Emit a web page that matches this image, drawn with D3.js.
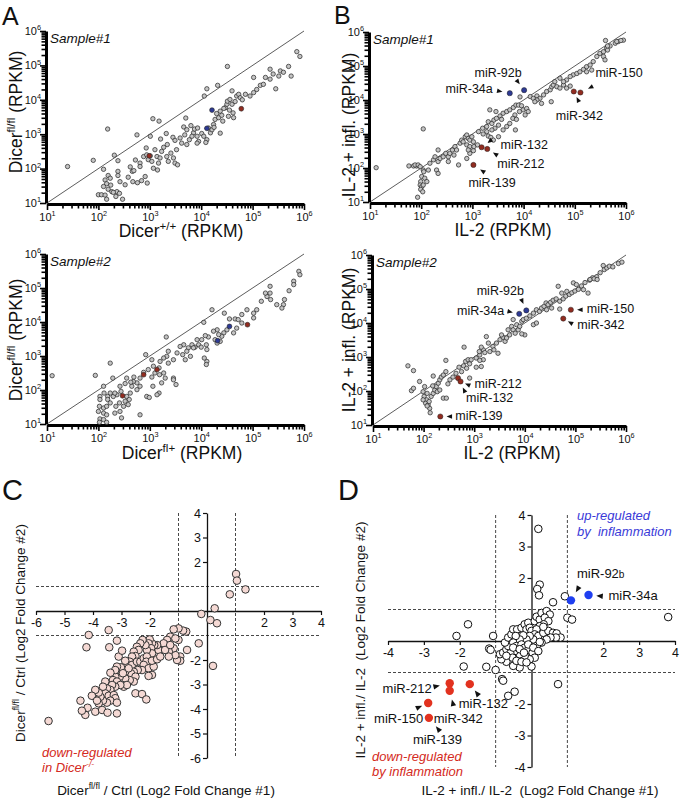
<!DOCTYPE html>
<html><head><meta charset="utf-8">
<script src="https://cdn.jsdelivr.net/npm/d3@7"></script>
<style>body{margin:0;background:#fff}svg{display:block}text{font-family:Arial,"Liberation Sans",sans-serif}</style>
</head><body>
<svg id="fig" width="680" height="801"></svg>
<script>
// ---------- DATA (log10 RPKM pairs for A/B; log2 fold changes for C/D) ----------
const dicerS1 = [[1.40,2.06],[1.90,2.24],[2.18,3.15],[2.31,2.39],[2.10,1.98],[2.38,2.23],[2.75,2.98],[3.01,2.94],[3.06,3.45],[3.18,3.38],[3.70,3.47],[4.11,4.32],[4.32,4.42],[4.51,4.97],[4.06,4.11],
[2.19,1.80],[2.23,1.72],[2.13,1.67],[2.16,1.56],[2.24,1.52],[2.10,1.48],[2.19,1.40],[2.26,1.33],[2.36,1.33],[2.41,1.28],[2.34,1.19],[2.47,1.11],[2.00,1.24],[2.06,1.24],[2.13,1.23],[2.16,1.11],[2.38,1.92],[2.38,1.80],[2.42,1.62],[2.52,1.53],[2.29,1.31],
[2.66,1.92],[2.69,1.94],[2.67,1.62],[2.76,1.59],[2.84,1.65],[2.91,1.77],[2.95,1.58],[2.93,2.60],[2.81,2.16],[2.81,2.06],[2.88,2.35],[2.94,2.40],[3.01,2.37],[2.97,2.26],[3.04,2.21],[3.10,2.55],[3.14,2.35],[3.20,2.31],[3.17,2.16],[3.07,2.01],[3.15,1.96],[3.23,2.50],[3.33,2.35],[3.34,2.70],[3.41,2.45],[3.46,2.31],[3.36,2.21],[3.49,2.16],[3.54,2.11],[3.21,2.86],[3.32,3.02],[3.45,2.91],[3.49,2.82],[3.59,2.89],[3.62,2.74],[3.66,3.21],[3.72,2.70],[3.77,2.84],[3.85,3.04],[3.87,3.15],[3.92,2.94],[3.95,2.79],[4.01,3.02],[4.05,2.94],[4.11,2.84],[4.09,2.76],[3.93,3.18],[4.14,3.18],[4.18,3.04],[4.21,3.13],[4.24,3.28],[4.27,3.43],[4.34,3.48],[4.37,3.67],[4.42,3.38],[4.37,3.03],[4.47,3.77],[4.50,3.87],[4.51,3.96],[4.56,4.01],[4.60,3.87],[4.62,3.62],[4.53,3.52],[4.63,3.48],[4.69,4.11],[4.73,4.16],[4.76,4.06],[4.60,4.26],[4.86,4.16],[4.95,4.11],[5.02,4.21],[5.02,4.65],[5.15,4.42],[5.21,4.45],[5.25,4.65],[5.34,4.60],[5.34,4.89],[5.45,4.32],[5.51,4.69],[5.54,4.84],[5.70,4.97],[5.75,4.69],[5.86,5.40],[5.92,5.26],
[3.72,3.13],[3.82,2.94],[3.92,2.74],[2.58,1.75],[2.62,2.05],[2.72,2.25],[3.27,2.62],[3.52,2.55],[3.68,2.98],[3.80,3.25],[4.30,3.60],[4.44,3.75],[4.66,3.95],[4.80,4.00],[4.25,3.20],[4.40,3.55],[4.55,3.70],[5.08,4.30],[5.40,4.75],[5.60,4.80]];
const dicerS1Blue = [[4.21,3.70],[4.11,3.17]];
const dicerS1Red = [[4.78,3.74],[2.99,2.37]];

const dicerS2 = [[1.10,2.42],[1.94,2.43],[2.10,2.11],[2.23,2.79],[2.28,2.35],[2.92,3.04],[3.32,3.56],[4.05,3.99],[4.21,4.36],[4.45,4.26],[5.90,5.49],[5.92,5.39],[5.80,5.20],[5.80,5.10],[5.71,4.92],[5.62,4.66],[5.60,4.51],[5.57,4.41],[5.47,4.51],[5.34,5.05],[5.34,4.85],[5.28,4.75],[5.35,4.66],[5.25,4.85],[5.17,4.61],[5.08,4.36],[5.02,4.26],[5.02,4.12],[4.89,4.36],[4.79,4.22],[4.79,3.97],[4.69,3.82],[4.63,3.68],[4.55,4.09],[4.66,4.09],[4.72,4.07],[4.50,3.77],[4.44,3.68],[4.40,3.58],[4.34,3.63],[4.27,3.48],[4.31,3.77],[4.24,3.73],[4.14,3.56],[4.08,3.60],[4.01,3.48],[3.95,3.33],[4.10,3.33],[4.11,3.19],[4.11,2.84],[4.10,2.75],[4.06,2.94],[4.00,3.26],[3.88,3.26],[3.92,3.48],[3.82,3.33],[3.75,3.24],[3.72,3.14],[3.66,3.33],[3.59,3.28],[3.64,3.04],[3.53,3.09],[3.46,2.89],[3.36,2.79],[3.33,2.99],[3.27,2.94],[3.20,2.84],[3.18,2.65],[3.07,2.70],[3.04,2.89],[3.10,2.50],[2.97,2.60],[2.88,2.52],[3.19,2.45],[3.27,2.50],[3.30,2.35],[3.46,2.35],[3.51,2.16],[3.46,2.30],[3.23,2.21],[3.18,1.91],[3.14,1.86],[3.06,2.11],[3.04,2.38],[2.94,1.81],[2.99,1.78],[2.81,2.35],[2.75,2.21],[2.68,2.25],[2.65,2.11],[2.75,2.01],[2.81,2.11],[2.62,1.91],[2.55,1.81],[2.63,2.23],[2.55,2.35],[2.52,2.19],[2.42,2.11],[2.44,1.96],[2.36,1.86],[2.29,1.81],[2.32,1.91],[2.23,1.91],[2.18,1.81],[2.18,1.72],[2.11,1.91],[2.03,1.81],[2.03,1.72],[2.02,1.52],[2.10,1.47],[2.16,1.52],[2.23,1.62],[2.00,1.37],[2.10,1.32],[2.16,1.27],[2.03,1.15],[2.10,1.13],[2.16,1.05],[2.02,1.05],[2.34,1.52],[2.41,1.62],[2.32,1.32],[2.45,1.18],[2.42,1.37],[2.49,1.52],[2.60,1.72],[2.81,1.27],[2.52,1.67],[2.58,1.57],[2.69,2.38],[4.31,3.38],[4.37,3.43],[3.69,2.89],[3.79,2.99],[3.85,3.24],[3.36,3.14]];
const dicerS2Blue = [[4.55,3.87],[4.32,3.45]];
const dicerS2Red = [[4.90,3.92],[3.14,2.60],[2.88,2.45],[2.47,1.83]];

const il2S1 = [[1.12,2.01],[2.04,3.15],[1.76,2.06],[1.85,2.06],[1.91,2.06],[1.88,2.09],[1.94,2.09],[1.98,2.04],[2.04,1.94],[2.01,1.75],[1.99,1.60],[1.98,1.50],[2.01,1.45],[2.04,1.50],[1.99,1.37],[2.03,1.30],[1.93,1.14],[2.07,1.70],[2.11,1.60],[2.05,1.89],[2.14,1.94],[2.17,2.14],[2.24,2.24],[2.27,2.33],[2.33,2.19],[2.37,2.28],[2.30,1.94],[2.33,1.84],[2.33,2.53],[2.43,2.33],[2.48,2.43],[2.53,2.33],[2.56,2.43],[2.61,2.53],[2.66,2.63],[2.69,2.53],[2.64,2.38],[2.73,2.09],[2.53,2.19],[2.76,2.73],[2.79,2.82],[2.82,2.77],[2.86,2.92],[2.89,2.97],[2.92,2.87],[2.95,2.82],[2.99,2.92],[3.02,2.77],[2.89,2.68],[2.95,2.63],[2.95,2.43],[3.02,2.51],[2.92,2.53],[2.89,2.28],[3.03,2.63],[3.10,2.68],[3.12,3.07],[3.20,3.17],[3.28,3.22],[3.31,3.36],[3.38,3.31],[3.42,3.41],[3.47,3.46],[3.54,3.53],[3.57,3.43],[3.51,3.26],[3.44,3.17],[3.38,3.12],[3.28,3.07],[3.21,3.00],[3.31,2.94],[3.36,2.90],[3.34,3.71],[3.46,3.66],[3.60,3.61],[3.67,3.66],[3.73,3.71],[3.80,3.78],[3.85,3.85],[3.90,3.85],[3.96,3.83],[3.99,3.71],[4.06,3.75],[4.09,3.66],[3.92,3.66],[3.83,3.56],[3.79,3.46],[3.86,3.43],[4.03,3.56],[3.84,3.12],[3.93,4.09],[4.13,4.10],[4.19,4.05],[4.26,4.12],[4.32,4.05],[4.39,4.15],[4.45,4.25],[4.52,4.30],[4.55,4.39],[4.58,4.44],[4.61,4.54],[4.65,4.39],[4.71,4.35],[4.78,4.44],[4.84,4.35],[4.91,4.41],[4.26,4.00],[4.35,3.90],[4.22,3.95],[4.54,3.95],[4.97,4.74],[5.04,4.78],[5.10,4.83],[5.17,4.90],[5.23,4.98],[5.30,5.03],[5.36,5.13],[5.43,5.28],[5.49,5.37],[5.56,5.42],[5.62,5.52],[5.69,5.59],[5.79,5.67],[5.85,5.72],[5.95,5.76],[5.23,4.83],[5.33,4.88],[5.56,5.28],[5.59,5.18],[5.64,5.47],[5.60,5.75],[5.64,5.59],[5.82,5.72],[5.90,5.75],[4.71,4.64],[4.84,4.59],[4.91,4.69],[4.78,4.54],[3.41,2.82],[3.51,2.92],[3.60,3.12],[3.67,3.22],[3.73,3.31]];
const il2S2 = [[1.69,2.74],[1.80,2.60],[1.76,2.01],[1.80,2.08],[1.92,2.28],[2.02,2.13],[1.99,1.98],[2.01,1.84],[2.06,1.74],[2.04,1.64],[2.09,1.59],[2.12,1.49],[2.13,1.36],[2.07,1.56],[2.11,1.69],[2.15,1.84],[2.19,1.93],[2.22,2.03],[2.25,2.13],[2.29,2.23],[2.32,2.33],[2.35,2.41],[2.39,2.47],[2.44,2.57],[1.99,1.74],[2.07,1.93],[2.18,2.15],[2.27,1.98],[2.32,2.03],[2.19,2.44],[2.39,1.79],[2.45,1.79],[2.44,2.90],[2.52,2.33],[2.58,2.41],[2.64,2.52],[2.48,2.21],[2.79,2.74],[2.83,2.87],[2.88,2.92],[2.91,2.80],[2.94,2.92],[2.85,2.67],[2.75,2.57],[2.70,2.70],[2.91,2.38],[2.80,3.29],[3.04,2.70],[3.14,2.72],[3.18,2.92],[3.04,2.97],[3.11,3.06],[3.18,3.21],[3.14,3.29],[3.21,3.13],[3.10,3.16],[3.11,2.90],[3.24,3.60],[3.28,3.41],[3.31,3.16],[3.37,3.31],[3.39,3.21],[3.44,3.41],[3.51,3.51],[3.47,3.11],[3.57,3.58],[3.61,3.46],[3.54,3.65],[3.64,3.56],[3.70,3.65],[3.67,3.80],[3.74,3.90],[3.77,3.80],[3.81,3.70],[3.84,3.95],[3.87,3.80],[3.90,3.90],[3.94,4.05],[3.97,4.10],[4.00,3.65],[3.94,3.68],[3.77,4.10],[4.03,4.14],[4.10,4.21],[4.17,4.29],[4.23,4.39],[4.29,4.34],[4.33,4.44],[4.38,4.49],[4.42,4.59],[4.46,4.54],[4.51,4.61],[4.56,4.67],[4.62,4.71],[4.69,4.64],[4.76,4.71],[4.81,4.79],[4.88,4.84],[4.93,4.89],[4.99,4.94],[5.06,4.99],[5.12,5.09],[5.19,5.19],[5.28,5.26],[5.34,5.33],[5.42,5.36],[5.49,5.48],[5.57,5.57],[5.62,5.62],[5.67,5.67],[5.74,5.65],[5.85,5.75],[5.92,5.79],[5.55,5.69],[4.17,3.95],[4.23,4.00],[4.66,5.08],[4.73,4.88],[4.83,4.93],[4.96,5.18],[5.02,5.13],[5.16,4.98],[5.25,4.88],[4.69,4.41],[5.29,5.28],[5.37,5.30],[5.43,5.28],[4.43,4.39],[4.53,4.44]];

const mirNames = ['miR-34a','miR-92b','miR-150','miR-342','miR-132','miR-212','miR-139'];
const mirUp = ['miR-34a','miR-92b'];
const il2S1Mir = [[3.73,4.20],[4.01,4.29],[5.11,4.22],[4.98,4.25],[3.18,2.61],[3.29,2.56],[3.02,2.09]];
const il2S2Mir = [[3.89,4.27],[4.03,4.37],[4.91,4.39],[4.76,4.13],[2.68,2.38],[2.73,2.28],[2.33,1.25]];

const foldDicer = [[1.02,1.51],[1.05,1.24],[1.35,0.88],[0.80,0.68],[0.27,0.11],[-0.20,-0.12],[0.12,-0.37],[0.35,-0.50],[0.21,-2.24],[-0.29,-1.32],[-0.73,-0.84],[-0.84,-0.80],[-1.00,-0.71],[-1.17,-0.75],[-0.70,-1.59],[-0.94,-1.86],[-0.94,-2.03],[-1.05,-2.00],[-1.11,-1.80],[-1.17,-1.52],[-1.00,-1.18],[-1.29,-1.05],[-1.40,-1.18],[-1.44,-1.39],[-1.52,-1.32],[-1.34,-1.66],[-1.34,-1.86],[-1.70,-1.59],[-1.75,-1.39],[-1.85,-1.39],[-1.93,-1.32],[-2.01,-1.16],[-2.05,-1.32],[-1.96,-1.52],[-1.93,-1.73],[-2.11,-1.59],[-2.16,-1.39],[-2.26,-1.18],[-2.34,-1.32],[-2.46,-1.46],[-2.40,-1.59],[-2.57,-1.66],[-2.51,-1.84],[-2.63,-1.86],[-2.71,-2.07],[-2.81,-2.20],[-2.63,-2.20],[-2.46,-2.07],[-2.34,-2.07],[-2.22,-1.93],[-2.11,-1.86],[-2.13,-2.07],[-2.22,-2.20],[-2.05,-2.34],[-1.87,-2.27],[-1.93,-2.61],[-2.05,-2.65],[-2.28,-2.41],[-2.43,-2.41],[-2.57,-2.48],[-2.67,-2.54],[-2.51,-2.68],[-2.57,-2.88],[-2.71,-2.82],[-2.87,-2.75],[-2.92,-3.09],[-2.81,-3.02],[-2.87,-2.48],[-3.02,-2.30],[-3.16,-2.27],[-3.10,-1.86],[-2.98,-1.62],[-3.16,-1.21],[-3.06,-2.68],[-3.22,-2.68],[-3.30,-2.82],[-3.16,-2.88],[-3.04,-3.02],[-3.22,-3.09],[-3.33,-3.02],[-3.39,-3.22],[-3.51,-3.16],[-3.57,-3.36],[-3.45,-3.46],[-3.27,-3.43],[-3.22,-3.56],[-3.39,-3.66],[-3.16,-3.74],[-3.51,-3.74],[-3.65,-3.66],[-3.74,-3.50],[-3.80,-3.33],[-3.92,-3.22],[-3.80,-3.77],[-3.92,-4.11],[-3.68,-4.04],[-3.49,-4.15],[-3.16,-4.18],[-4.04,-3.46],[-4.19,-3.95],[-4.27,-4.24],[-4.39,-4.07],[-4.44,-3.66],[-5.56,-4.49],[-4.15,-0.98],[-4.23,-1.48],[-3.45,-0.78],[-3.43,-1.48],[-2.87,-2.03],[-3.22,-2.41],[-2.51,-3.36],[-2.28,-3.39],[-2.13,-3.61],[-1.93,-2.03],[-1.75,-1.97],[-1.64,-1.86],[-1.47,-1.59],[-1.29,-1.39],[-1.11,-1.12],[-2.75,-2.34],[-2.95,-2.54],[-3.57,-2.88],[-3.39,-2.52],[-3.86,-3.66],[-3.65,-3.09]];

const foldInfl = [[0.19,3.56],[0.23,1.79],[0.16,1.65],[0.21,1.45],[0.60,1.23],[0.93,1.42],[3.81,0.76],[1.00,0.74],[1.13,0.68],[-1.77,0.53],[-2.09,0.16],[-1.07,0.16],[-1.89,-0.81],[-1.26,-0.82],[-1.00,-0.92],[-1.18,-0.24],[-1.14,-0.28],[-0.82,-1.21],[-0.79,-1.26],[-0.65,-1.74],[-0.47,-1.61],[0.74,-1.37],[0.00,-0.81],[-0.33,-0.84],[-0.51,-0.79],[-0.70,-0.66],[-0.84,-0.58],[-0.88,-0.42],[-0.79,-0.37],[-0.70,-0.26],[-0.65,-0.16],[-0.74,-0.05],[-0.65,0.11],[-0.56,0.21],[-0.51,0.37],[-0.40,0.37],[-0.28,0.42],[-0.19,0.53],[-0.09,0.58],[-0.14,0.37],[-0.05,0.42],[0.00,0.32],[0.09,0.63],[0.14,0.77],[0.23,0.68],[0.28,0.89],[0.42,0.95],[0.51,0.84],[0.37,0.74],[0.47,0.63],[0.34,0.53],[0.23,0.47],[0.14,0.37],[0.09,0.21],[0.19,0.16],[0.33,0.26],[0.47,0.32],[0.60,0.26],[0.70,0.24],[0.81,0.11],[0.68,0.11],[0.53,0.11],[0.42,0.05],[0.28,-0.05],[0.16,-0.11],[0.05,0.05],[-0.05,0.16],[-0.14,0.05],[-0.23,0.18],[-0.33,0.05],[-0.44,0.16],[-0.51,-0.05],[-0.42,-0.16],[-0.28,-0.11],[-0.19,-0.21],[-0.09,-0.28],[0.03,-0.37],[0.09,-0.53],[-0.05,-0.58],[-0.19,-0.47],[-0.33,-0.42],[-0.47,-0.32],[-0.59,-0.39],[-0.53,-0.53],[-0.42,-0.63],[-0.28,-0.66],[-0.14,-0.68],[-0.51,-0.21],[-0.33,-0.26],[-0.21,-0.37],[-0.09,-0.11],[0.05,-0.21],[0.19,-0.32],[0.23,-0.03],[0.33,0.45],[-0.70,-0.47]];
const foldMirNames = ['miR-92b','miR-34a','miR-212','miR-132','miR-342','miR-150','miR-139'];
const foldMir = [[1.10,1.29],[1.59,1.46],[-2.28,-1.34],[-1.72,-1.37],[-2.28,-1.58],[-2.88,-1.97],[-2.86,-2.44]];

const logExponents = [1,2,3,4,5,6];
const cXTicks = [-6,-5,-4,-3,-2,2,3,4], cYTicks = [4,3,2,-2,-3,-4,-5,-6];
const dXTicks = [-4,-3,-2,2,3,4], dYTicks = [4,3,2,-2,-3,-4];
const foldCutoffs = [-1,1];

// ---------- DRAWING ----------
const svg = d3.select('#fig');
const BLUE_DK = '#2d3a94', RED_DK = '#922c20', BLUE = '#1f3ff0', RED = '#e2321f', CRED = '#d42a22';

function rich(textSel, parts, size) {
  let cur = 0;
  parts.forEach(([s, kind]) => {
    const t = textSel.append('tspan').text(s);
    let target = 0, fs = size;
    if (kind === 'sup') { target = -size * 0.42; fs = size * 0.66; }
    else if (kind === 'small') { fs = size * 0.78; }
    if (target !== cur) t.attr('dy', target - cur);
    cur = target;
    t.attr('font-size', fs);
  });
  return textSel;
}
function label(x, y, parts, size, opt = {}) {
  const t = svg.append('text').attr('x', x).attr('y', y).attr('font-size', size)
    .attr('text-anchor', opt.anchor || 'start').attr('fill', opt.fill || '#111')
    .attr('font-style', opt.italic ? 'italic' : null).style('white-space', 'pre');
  if (opt.rotate) t.attr('x', 0).attr('y', 0).attr('transform', `translate(${x},${y}) rotate(-90)`);
  return rich(t, parts, size);
}
function arrowHead(px, py, ax, ay, len) {
  const dx = -ax, dy = -ay, L = Math.hypot(dx, dy) || 1, ux = dx / L, uy = dy / L;
  const cx = px + ax, cy = py + ay, h = len / 2, w = len * 0.42;
  const tip = [cx + ux * h, cy + uy * h], b = [cx - ux * h, cy - uy * h];
  svg.append('path').attr('d', `M${tip[0]},${tip[1]}L${b[0] - uy * w},${b[1] + ux * w}L${b[0] + uy * w},${b[1] - ux * w}Z`).attr('fill', '#111');
}

const logPanels = [
  {pts: dicerS1, blue: dicerS1Blue, red: dicerS1Red, x0: 47, x1: 304, yt: 31, yb: 203, sample: 'Sample#1',
   xTitle: [['Dicer'], ['+/+', 'sup'], [' (RPKM)']], xtx: 181, xty: 237, yTitle: [['Dicer'], ['fl/fl', 'sup'], [' (RPKM)']], ytx: 22, yty: 112},
  {pts: dicerS2, blue: dicerS2Blue, red: dicerS2Red, x0: 47, x1: 304, yt: 254, yb: 424, sample: 'Sample#2',
   xTitle: [['Dicer'], ['fl+', 'sup'], [' (RPKM)']], xtx: 182, xty: 459, yTitle: [['Dicer'], ['fl/fl', 'sup'], [' (RPKM)']], ytx: 22, yty: 340},
  {pts: il2S1, mir: il2S1Mir, x0: 370, x1: 626, yt: 32, yb: 202, sample: 'Sample#1',
   xTitle: [['IL-2 (RPKM)']], xtx: 503, xty: 236, yTitle: [['IL-2 + infl. (RPKM)']], ytx: 355, yty: 125,
   lay: {'miR-34a': [-17, 0, 'end', -10, -2], 'miR-92b': [-26, -13, 'middle', -6, -8], 'miR-150': [15, -16, 'start', 10, -5], 'miR-342': [-18, 28, 'start', 4, 8],
         'miR-132': [19, 2, 'start', 8, -6], 'miR-212': [10, 19, 'start', 8, 5], 'miR-139': [-5, 22, 'start', 9, 6]}},
  {pts: il2S2, mir: il2S2Mir, x0: 373, x1: 626, yt: 255, yb: 425, sample: 'Sample#2',
   xTitle: [['IL-2 (RPKM)']], xtx: 512, xty: 459, yTitle: [['IL-2 + infl. (RPKM)']], ytx: 355, yty: 340,
   lay: {'miR-34a': [-15, 1, 'end', -9, -2], 'miR-92b': [-26, -15, 'middle', -4, -9], 'miR-150': [16, 3, 'start', 9, 0], 'miR-342': [14, 10, 'start', 7, 4],
         'miR-132': [8, 24, 'start', 6, 12], 'miR-212': [14, 7, 'start', 7, 3], 'miR-139': [15, 3, 'start', 9, 0]}}
];

logPanels.forEach(p => {
  const x = d3.scaleLog().domain([10, 1e6]).range([p.x0, p.x1]);
  const y = d3.scaleLog().domain([10, 1e6]).range([p.yb, p.yt]);
  const g = svg.append('g');
  g.append('line').attr('x1', x(10)).attr('y1', y(10)).attr('x2', x(1e6)).attr('y2', y(1e6)).attr('stroke', '#333').attr('stroke-width', 0.8);
  const ticks = [];
  logExponents.forEach(e => { for (let m = 1; m <= 9; m++) { if (e === 6 && m > 1) break; ticks.push(m * Math.pow(10, e)); } });
  const isMajor = d => Math.abs(Math.log10(d) - Math.round(Math.log10(d))) < 1e-9;
  const fmt = (sel, horiz) => {
    sel.select('.domain').attr('stroke', '#000').attr('stroke-width', 3);
    sel.selectAll('.tick line').attr('stroke', '#000').attr('stroke-width', 1.6)
      .attr(horiz ? 'y2' : 'x2', d => (horiz ? 1 : -1) * (isMajor(d) ? 6 : 4.5));
    sel.selectAll('.tick text').each(function (d) {
      const t = d3.select(this).text(null).attr('fill', '#111').attr('font-size', 11);
      if (!isMajor(d)) return;
      if (horiz) t.attr('y', 16.5).attr('dy', null).attr('text-anchor', 'middle');
      else t.attr('x', -5).attr('dy', '0.3em').attr('text-anchor', 'end');
      rich(t, [['10'], [String(Math.round(Math.log10(d))), 'sup']], 11);
    });
  };
  g.append('g').attr('transform', `translate(0,${p.yb + 1})`)
    .call(d3.axisBottom(x).tickValues(ticks).tickSizeOuter(0).tickFormat(() => ''))
    .call(s => fmt(s, true));
  g.append('g').attr('transform', `translate(${p.x0 - 1},0)`)
    .call(d3.axisLeft(y).tickValues(ticks).tickSizeOuter(0).tickFormat(() => ''))
    .call(s => fmt(s, false));
  g.selectAll('circle.pt').data(p.pts).join('circle').attr('class', 'pt')
    .attr('cx', d => x(10 ** d[0])).attr('cy', d => y(10 ** d[1])).attr('r', 2.2)
    .attr('fill', '#c4c4c4').attr('stroke', '#222').attr('stroke-width', 0.7);
  if (p.blue) {
    g.selectAll('circle.bl').data(p.blue).join('circle').attr('class', 'bl')
      .attr('cx', d => x(10 ** d[0])).attr('cy', d => y(10 ** d[1])).attr('r', 2.4).attr('fill', BLUE_DK).attr('stroke', '#222').attr('stroke-width', 0.6);
    g.selectAll('circle.rd').data(p.red).join('circle').attr('class', 'rd')
      .attr('cx', d => x(10 ** d[0])).attr('cy', d => y(10 ** d[1])).attr('r', 2.4).attr('fill', RED_DK).attr('stroke', '#222').attr('stroke-width', 0.6);
  }
  if (p.mir) {
    p.mir.forEach((d, i) => {
      const name = mirNames[i], px = x(10 ** d[0]), py = y(10 ** d[1]), L = p.lay[name];
      svg.append('circle').attr('cx', px).attr('cy', py).attr('r', 2.6)
        .attr('fill', mirUp.includes(name) ? BLUE_DK : RED_DK).attr('stroke', '#222').attr('stroke-width', 0.5);
      label(px + L[0], py + L[1], [[name]], 12.5, {anchor: L[2]});
      arrowHead(px, py, L[3], L[4], 5.5);
    });
  }
  label(p.x0 + 3, p.yt + 12, [[p.sample]], 13.5, {italic: true});
  label(p.xtx, p.xty, p.xTitle, 17.5, {anchor: 'middle'});
  label(p.ytx, p.yty, p.yTitle, 17.5, {anchor: 'middle', rotate: true});
});

// ---------- fold change panels ----------
const foldPanels = [
  {pts: foldDicer, xd: [-6, 4], yd: [-6, 4], x0: 36, x1: 321, yt: 513, yb: 758, xt: cXTicks, ytk: cYTicks, fill: '#f5d9d4', stroke: '#333'},
  {pts: foldInfl, xd: [-4, 4], yd: [-4, 4], x0: 388, x1: 675, yt: 515, yb: 767, xt: dXTicks, ytk: dYTicks, fill: '#fff', stroke: '#111', mir: foldMir,
   lay: {'miR-92b': [6, -22, 'start', 6.5, -11], 'miR-34a': [20, 5, 'start', 11, 1], 'miR-212': [-18, 10, 'end', -13, 3], 'miR-132': [-11, 24, 'start', 7, 9],
         'miR-342': [-16, 32, 'start', 3, 12], 'miR-150': [-5, 20, 'end', -9, 4], 'miR-139': [-16, 26, 'start', 9, 11]}}
];
foldPanels.forEach(p => {
  const x = d3.scaleLinear().domain(p.xd).range([p.x0, p.x1]);
  const y = d3.scaleLinear().domain(p.yd).range([p.yb, p.yt]);
  const g = svg.append('g');
  foldCutoffs.forEach(c => {
    g.append('line').attr('x1', x(c)).attr('x2', x(c)).attr('y1', p.yt).attr('y2', p.yb)
      .attr('stroke', '#333').attr('stroke-width', 0.9).attr('stroke-dasharray', '3,2');
    g.append('line').attr('x1', p.x0).attr('x2', p.x1).attr('y1', y(c)).attr('y2', y(c))
      .attr('stroke', '#333').attr('stroke-width', 0.9).attr('stroke-dasharray', '3,2');
  });
  const fmtN = d => (d < 0 ? '-' + Math.abs(d) : String(d));
  const style = s => {
    s.select('.domain').attr('stroke', '#111').attr('stroke-width', 1.3);
    s.selectAll('.tick line').attr('stroke', '#111').attr('stroke-width', 1.2);
    s.selectAll('.tick text').attr('font-size', 12.5).attr('fill', '#111').attr('font-family', 'Arial, "Liberation Sans", sans-serif');
  };
  g.append('g').attr('transform', `translate(0,${y(0)})`)
    .call(d3.axisBottom(x).tickValues(p.xt).tickSize(4).tickSizeOuter(0).tickPadding(3).tickFormat(fmtN)).call(style);
  g.append('g').attr('transform', `translate(${x(0)},0)`)
    .call(d3.axisLeft(y).tickValues(p.ytk).tickSize(4).tickSizeOuter(0).tickPadding(2).tickFormat(fmtN)).call(style);
  g.selectAll('circle.fp').data(p.pts).join('circle').attr('class', 'fp')
    .attr('cx', d => x(d[0])).attr('cy', d => y(d[1])).attr('r', 3.8)
    .attr('fill', p.fill).attr('stroke', p.stroke).attr('stroke-width', 1);
  if (p.mir) {
    p.mir.forEach((d, i) => {
      const name = foldMirNames[i], px = x(d[0]), py = y(d[1]), L = p.lay[name];
      svg.append('circle').attr('cx', px).attr('cy', py).attr('r', 4.2).attr('fill', mirUp.includes(name) ? BLUE : RED);
      const parts = name === 'miR-92b' ? [['miR-92'], ['b', 'small']] : [[name]];
      label(px + L[0], py + L[1], parts, 13, {anchor: L[2]});
      arrowHead(px, py, L[3], L[4], 6.5);
    });
  }
});

// titles & annotations for C / D
label(166, 795, [['Dicer'], ['fl/fl', 'sup'], [' / Ctrl (Log2 Fold Change #1)']], 13.5, {anchor: 'middle'});
label(25, 633, [['Dicer'], ['fl/fl', 'sup'], [' / Ctrl (Log2 Fold Change #2)']], 13.5, {anchor: 'middle', rotate: true});
label(540, 795, [['IL-2 + infl./ IL-2  (Log2 Fold Change #1)']], 13.5, {anchor: 'middle'});
label(365, 640, [['IL-2 + infl./ IL-2  (Log2 Fold Change #2)']], 13.5, {anchor: 'middle', rotate: true});
label(42, 757, [['down-regulated']], 13, {italic: true, fill: CRED});
label(42, 772, [['in Dicer'], ['-/-', 'sup']], 13, {italic: true, fill: CRED});
label(372, 761, [['down-regulated']], 13, {italic: true, fill: CRED});
label(372, 776, [['by inflammation']], 13, {italic: true, fill: CRED});
label(577, 520, [['up-regulated']], 13, {italic: true, fill: '#3a3ad8'});
label(577, 536, [['by  inflammation']], 13, {italic: true, fill: '#3a3ad8'});

// panel letters
label(2, 25, [['A']], 25);
label(334, 24, [['B']], 25);
label(2, 500, [['C']], 29);
label(338, 500, [['D']], 29);
</script>
</body></html>
